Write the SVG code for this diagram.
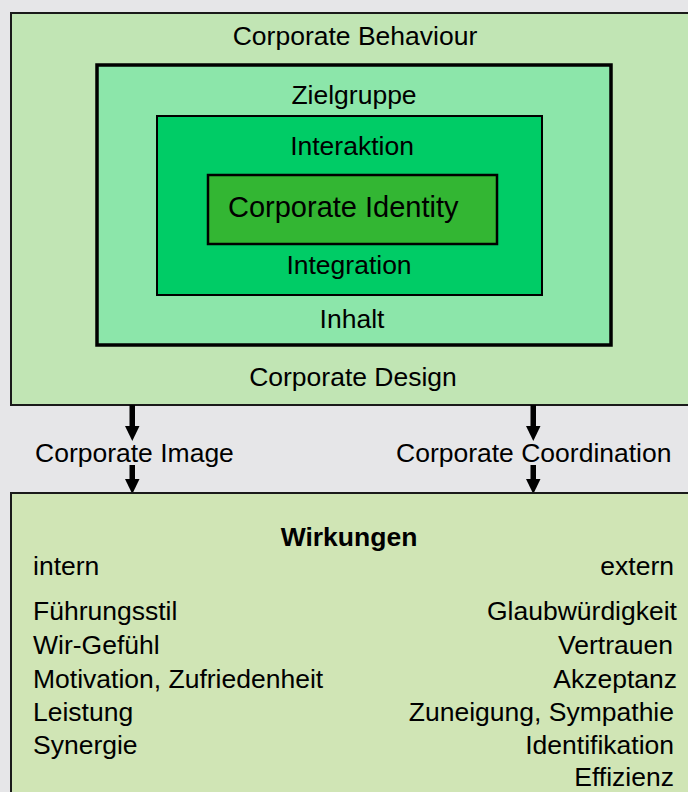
<svg xmlns="http://www.w3.org/2000/svg" width="688" height="792" viewBox="0 0 688 792">
  <defs>
    <style>
      text { font-family: "Liberation Sans", Arial, sans-serif; font-size: 26.5px; fill: #000; }
      .c { text-anchor: middle; }
      .r { text-anchor: end; }
      .b { font-weight: bold; }
      .big { font-size: 29px; }
      .arrow { fill: #000; }
    </style>
  </defs>
  <rect x="0" y="0" width="688" height="792" fill="#e6e6e8"/>

  <g id="behaviour">
    <rect x="11" y="13" width="690" height="392" fill="#c1e5b4" stroke="#1a1a1a" stroke-width="2"/>
    <text x="355" y="45" class="c">Corporate Behaviour</text>
    <text x="353" y="386" class="c">Corporate Design</text>
  </g>

  <g id="zielgruppe">
    <rect x="97" y="65" width="514" height="280" fill="#8ce6aa" stroke="#000" stroke-width="3.5"/>
    <text x="354" y="104" class="c">Zielgruppe</text>
    <text x="352" y="328" class="c">Inhalt</text>
  </g>

  <g id="interaktion">
    <rect x="157" y="116" width="385" height="179" fill="#00cc66" stroke="#000" stroke-width="2"/>
    <text x="352" y="155" class="c">Interaktion</text>
    <text x="349" y="274" class="c">Integration</text>
  </g>

  <g id="identity">
    <rect x="208" y="175" width="289" height="69" fill="#33b633" stroke="#000" stroke-width="2.5"/>
    <text x="228" y="217" class="big">Corporate Identity</text>
  </g>

  <g id="connectors">
    <rect x="129.5" y="405" width="5.5" height="23" class="arrow"/>
    <polygon points="125,426 139.5,426 132.3,441" class="arrow"/>
    <rect x="129.5" y="465" width="5.5" height="16" class="arrow"/>
    <polygon points="125,479 139.5,479 132.3,494" class="arrow"/>
    <rect x="530.5" y="405" width="5.5" height="23" class="arrow"/>
    <polygon points="526,426 540.5,426 533.3,441" class="arrow"/>
    <rect x="530.5" y="465" width="5.5" height="16" class="arrow"/>
    <polygon points="526,479 540.5,479 533.3,494" class="arrow"/>
  </g>

  <g id="labels">
    <text x="35" y="462">Corporate Image</text>
    <text x="396" y="462">Corporate Coordination</text>
  </g>

  <g id="wirkungen">
    <rect x="11" y="493" width="690" height="310" fill="#d0e5b5" stroke="#1a1a1a" stroke-width="2"/>
    <text x="349" y="546" class="c b">Wirkungen</text>
    <text x="33" y="575">intern</text>
    <text x="674" y="575" class="r">extern</text>

    <text x="33" y="620">Führungsstil</text>
    <text x="33" y="654">Wir-Gefühl</text>
    <text x="33" y="688">Motivation, Zufriedenheit</text>
    <text x="33" y="721">Leistung</text>
    <text x="33" y="754">Synergie</text>

    <text x="677" y="620" class="r">Glaubwürdigkeit</text>
    <text x="673" y="654" class="r">Vertrauen</text>
    <text x="677" y="688" class="r">Akzeptanz</text>
    <text x="674" y="721" class="r">Zuneigung, Sympathie</text>
    <text x="674" y="754" class="r">Identifikation</text>
    <text x="674" y="786" class="r">Effizienz</text>
  </g>
</svg>
